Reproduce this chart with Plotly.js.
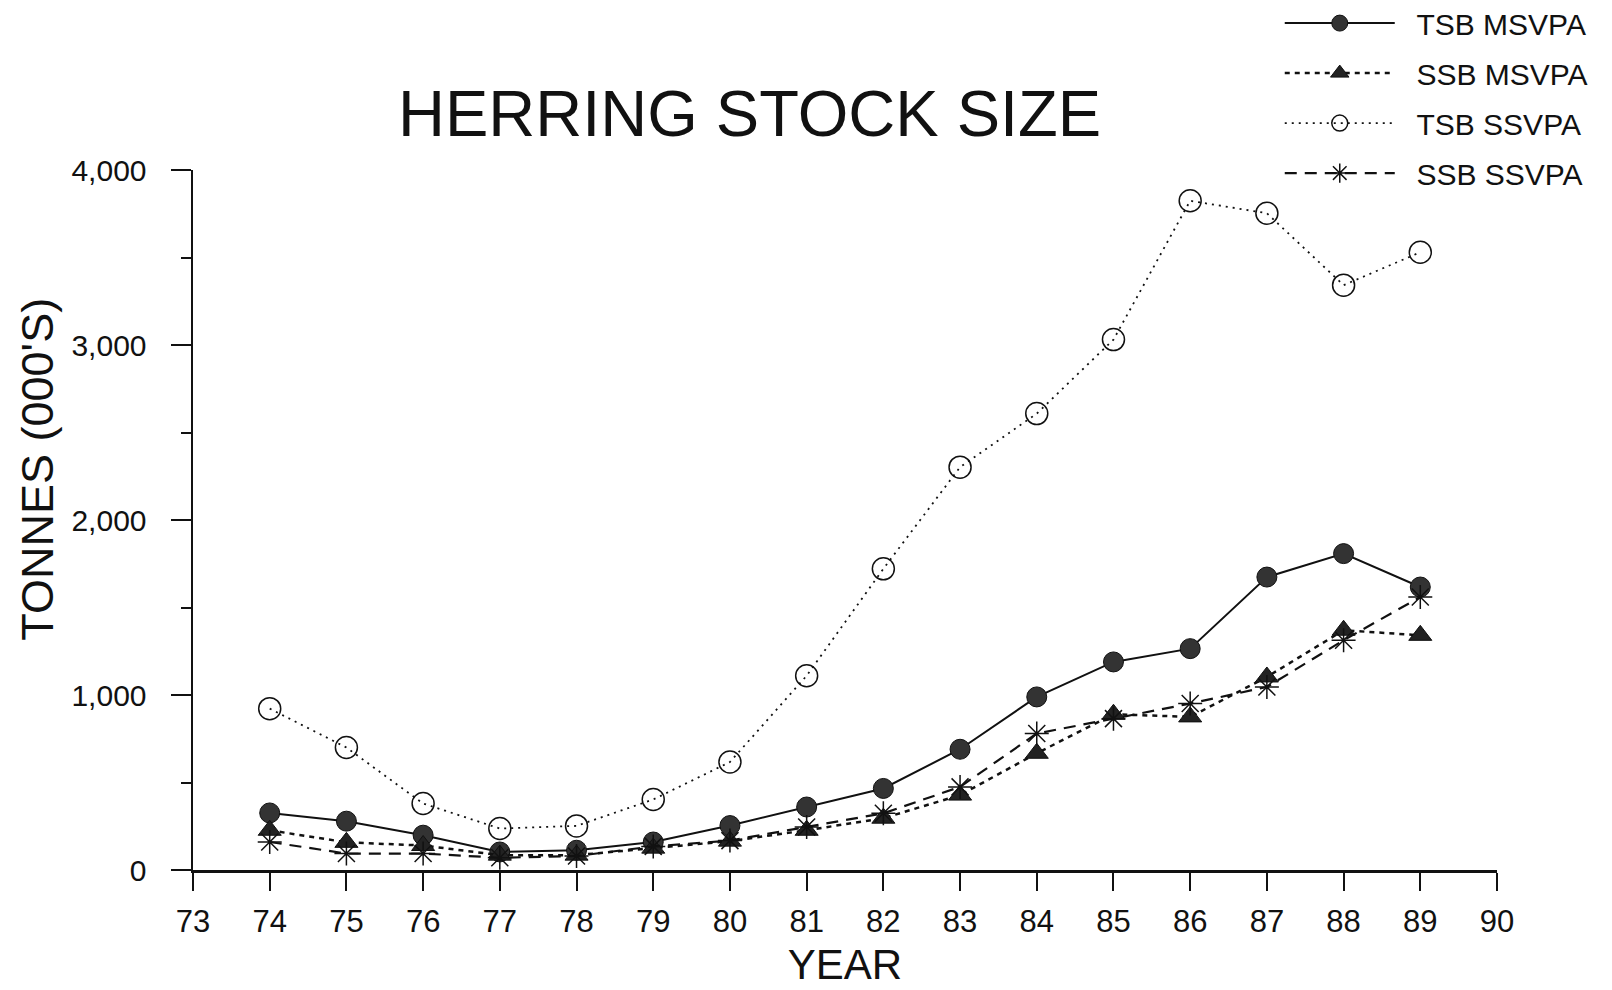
<!DOCTYPE html>
<html>
<head>
<meta charset="utf-8">
<script src="https://cdn.plot.ly/plotly-3.0.1.min.js"></script>
<style>html,body{margin:0;padding:0;background:#fff;}#chart{width:1612px;height:990px;}</style>
</head>
<body>
<div id="chart"></div>
<script>
const years = [74,75,76,77,78,79,80,81,82,83,84,85,86,87,88,89];
const tsbMsvpa = [326,279,199,103,113,160,254,360,466,690,989,1189,1265,1674,1808,1617];
const ssbMsvpa = [227,158,140,85,85,125,165,227,296,428,667,890,875,1103,1370,1341];
const tsbSsvpa = [922,700,380,237,252,403,617,1110,1721,2302,2608,3031,3824,3753,3342,3530];
const ssbSsvpa = [160,94,94,70,80,135,168,246,324,475,780,865,951,1046,1313,1560];
const seriesNames = ['TSB MSVPA','SSB MSVPA','TSB SSVPA','SSB SSVPA'];
const xTicks = [73,74,75,76,77,78,79,80,81,82,83,84,85,86,87,88,89,90];
const yTicks = [0,1000,2000,3000,4000];

const ink = '#111';
const pad = '\u00a0\u00a0';
const traces = [
  {x: years, y: tsbMsvpa, name: pad + seriesNames[0], legendgroup:'a', mode:'lines+markers',
   line:{color:ink, width:2, dash:'solid'}, marker:{symbol:'circle', size:20, color:'#333', line:{color:ink,width:1}}},
  {x: years, y: ssbMsvpa, name: pad + seriesNames[1], legendgroup:'b', mode:'lines+markers',
   line:{color:ink, width:2.5, dash:'5px,5px'}, marker:{symbol:'triangle-up', size:20, color:'#222', line:{color:ink,width:1}}},
  {x: years, y: tsbSsvpa, name: pad + seriesNames[2], legendgroup:'c', mode:'lines+markers',
   line:{color:ink, width:1.8, dash:'2px,5px'}, marker:{symbol:'circle-open', size:22, color:ink, line:{color:ink,width:1.5}}},
  {x: years, y: ssbSsvpa, name: pad + seriesNames[3], legendgroup:'d', mode:'lines+markers',
   line:{color:ink, width:2.2, dash:'12px,8px'}, marker:{symbol:'asterisk-open', size:20, color:ink, line:{color:ink,width:1.5}}}
];

const layout = {
  width:1612, height:990,
  paper_bgcolor:'#fff', plot_bgcolor:'#fff',
  font:{family:'Liberation Sans, Arial, sans-serif', color:ink},
  margin:{l:193, r:115, t:170, b:120, autoexpand:false},
  title:{text:'HERRING STOCK SIZE', font:{size:65, color:ink}, x:0.465, xanchor:'center', y:0.886, yanchor:'middle', yref:'container'},
  showlegend:true,
  legend:{x:0.8334, xanchor:'left', y:1.247, yanchor:'top', font:{size:30, color:ink}, itemwidth:110, tracegroupgap:8, bgcolor:'rgba(0,0,0,0)'},
  xaxis:{range:[73,90], tickvals:xTicks, ticktext:xTicks.map(String), ticks:'outside', ticklen:18, tickwidth:2, tickcolor:ink,
    showline:true, linewidth:2.5, linecolor:ink, showgrid:false, zeroline:false, tickfont:{size:31}, ticklabelstandoff:4,
    title:{text:'YEAR', font:{size:42}, standoff:12}},
  yaxis:{range:[0,4000], tickvals:yTicks, tickformat:',d', ticks:'outside', ticklen:20, tickwidth:2, tickcolor:ink,
    showline:true, linewidth:2.5, linecolor:ink, showgrid:false, zeroline:false, tickfont:{size:30}, ticklabelstandoff:18,
    minor:{dtick:500, tick0:0, ticks:'outside', ticklen:10, tickwidth:2, tickcolor:ink, showgrid:false}},
  annotations:[{text:"TONNES (000'S)", textangle:-90, xref:'paper', yref:'paper', x:-0.119, y:0.573,
    xanchor:'center', yanchor:'middle', showarrow:false, font:{size:45, color:ink}}]
};
Plotly.newPlot('chart', traces, layout, {displayModeBar:false, staticPlot:true});
</script>
</body>
</html>
